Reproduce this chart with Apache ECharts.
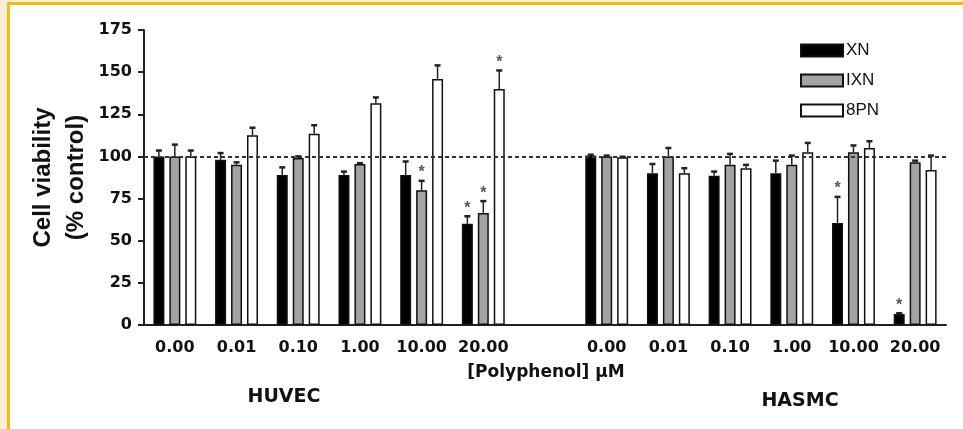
<!DOCTYPE html>
<html>
<head>
<meta charset="utf-8">
<script src="https://cdn.jsdelivr.net/npm/echarts@6/dist/echarts.min.js"></script>
<style>
  html, body { margin: 0; padding: 0; background: #fbeed4; }
  #frame { position: absolute; left: 7px; top: 2px; width: 956px; height: 427px;
    background: #fff; border-left: 3px solid #f2bb1c; border-top: 3px solid #f2bb1c; box-sizing: border-box; }
  #chart { position: absolute; left: 0; top: 0; width: 963px; height: 429px; }
</style>
</head>
<body>
<div id="frame"></div>
<div id="chart"></div>
<script>
// concentrations, per cell line
const doses = ['0.00', '0.01', '0.10', '1.00', '10.00', '20.00']

// cell viability (% control), mean and SEM
const xnHuvec = [100, 98, 89, 89, 89, 60]
const xnHuvecErr = [3.5, 4, 4.5, 2, 8, 4.5]
const ixnHuvec = [100, 95, 99, 95.5, 80, 66.5]
const ixnHuvecErr = [7, 1.5, 1, 0.5, 5.5, 7]
const pnHuvec = [100, 112.5, 113.5, 131.5, 146, 140]
const pnHuvecErr = [3.5, 4.5, 5, 3.5, 8, 11]

const xnHasmc = [100.5, 90, 88.5, 90, 60.5, 6.5]
const xnHasmcErr = [0.5, 5.5, 2.5, 7.5, 15.5, 0.5]
const ixnHasmc = [100, 100, 95, 95, 102.5, 96.5]
const ixnHasmcErr = [0.5, 5, 6.5, 5.5, 4, 1]
const pnHasmc = [99.5, 90, 93, 102.5, 105, 92]
const pnHasmcErr = [0.3, 3, 2, 5.5, 4, 8.5]

// significance marks (*)
const xnHuvecStar = [0, 0, 0, 0, 0, 1]
const xnHasmcStar = [0, 0, 0, 0, 1, 1]
const ixnHuvecStar = [0, 0, 0, 0, 1, 1]
const ixnHasmcStar = [0, 0, 0, 0, 0, 0]
const pnHuvecStar = [0, 0, 0, 0, 0, 1]
const pnHasmcStar = [0, 0, 0, 0, 0, 0]

const yTicks = [0, 25, 50, 75, 100, 125, 150, 175]

// HUVEC, empty slot, HASMC
const categories = doses.concat([''], doses)
const join = (a, b) => a.concat(['-'], b)

const barW = 11
const barGap = 0.45
const step = barW * (1 + barGap)

const errData = (vals, errs, stars) => {
  let out = []
  for (let i = 0; i < vals.length; i++) {
    if (vals[i] === '-') continue
    out.push([i, vals[i], errs[i], stars[i]])
  }
  return out
}

const renderErr = (k) => (params, api) => {
  let x = api.value(0)
  let v = api.value(1)
  let e = api.value(2)
  let base = api.coord([x, v])
  let top = api.coord([x, v + e])
  let cx = base[0] + k * step
  let kids = [
    {type: 'line', shape: {x1: cx, y1: base[1], x2: cx, y2: top[1]}, style: {stroke: '#222', lineWidth: 1.5}},
    {type: 'line', shape: {x1: cx - 3, y1: top[1], x2: cx + 3, y2: top[1]}, style: {stroke: '#222', lineWidth: 2.5}}
  ]
  if (api.value(3)) {
    kids.push({type: 'text', x: cx, y: top[1] - 8,
      style: {text: '*', fill: '#555', fontSize: 16, fontWeight: 'bold', fontFamily: 'Liberation Sans', align: 'center', verticalAlign: 'middle'}})
  }
  return {type: 'group', children: kids}
}

const bar = (name, data, fill) => ({
  name: name,
  type: 'bar',
  data: data,
  barWidth: barW,
  barGap: (barGap * 100) + '%',
  itemStyle: {color: fill, borderColor: '#111', borderWidth: 1.5},
  emphasis: {disabled: true}
})

const err = (name, data, k) => ({
  name: name,
  type: 'custom',
  renderItem: renderErr(k),
  data: data,
  z: 5,
  silent: true
})

const xnAll = join(xnHuvec, xnHasmc)
const ixnAll = join(ixnHuvec, ixnHasmc)
const pnAll = join(pnHuvec, pnHasmc)

let xnBar = bar('XN', xnAll, '#000')
xnBar.markLine = {
  silent: true,
  symbol: 'none',
  label: {show: false},
  lineStyle: {color: '#333', type: [4, 3], width: 2},
  data: [{yAxis: 100}]
}

const option = {
  animation: false,
  grid: {left: 144, right: 17, top: 30, bottom: 104},
  legend: {
    data: ['XN', 'IXN', '8PN'],
    orient: 'vertical',
    left: 795,
    top: 37,
    icon: 'rect',
    itemWidth: 42,
    itemHeight: 12,
    itemGap: 13,
    textStyle: {fontFamily: 'Liberation Sans', fontSize: 17, color: '#111', padding: [0, 0, 0, -2]}
  },
  xAxis: {
    type: 'category',
    data: categories,
    axisLine: {lineStyle: {color: '#222', width: 2}},
    axisTick: {show: false},
    axisLabel: {interval: 0, margin: 15, color: '#111', fontFamily: 'DejaVu Sans', fontWeight: 'bold', fontSize: 16}
  },
  yAxis: {
    type: 'value',
    min: 0,
    max: yTicks[yTicks.length - 1],
    interval: yTicks[1] - yTicks[0],
    splitLine: {show: false},
    axisLine: {show: true, lineStyle: {color: '#222', width: 2}},
    axisTick: {show: true, length: 6, lineStyle: {width: 2, color: '#222'}},
    axisLabel: {margin: 12, color: '#111', fontFamily: 'DejaVu Sans', fontWeight: 'bold', fontSize: 16},
    name: 'Cell viability\n(% control)',
    nameLocation: 'middle',
    nameGap: 51,
    nameMoveOverlap: false,
    nameTextStyle: {fontFamily: 'Liberation Sans', fontWeight: 'bold', fontSize: 24, lineHeight: 33, color: '#111'}
  },
  graphic: [
    {type: 'text', x: 546, y: 373, style: {text: '[Polyphenol] µM', fontFamily: 'DejaVu Sans', fontWeight: 'bold', fontSize: 17, fill: '#111', align: 'center', verticalAlign: 'middle'}},
    {type: 'text', x: 284, y: 397, style: {text: 'HUVEC', fontFamily: 'DejaVu Sans', fontWeight: 'bold', fontSize: 19, fill: '#111', align: 'center', verticalAlign: 'middle'}},
    {type: 'text', x: 800, y: 401, style: {text: 'HASMC', fontFamily: 'DejaVu Sans', fontWeight: 'bold', fontSize: 19, fill: '#111', align: 'center', verticalAlign: 'middle'}}
  ],
  series: [
    xnBar,
    bar('IXN', ixnAll, '#a3a3a3'),
    bar('8PN', pnAll, '#fff'),
    err('XN err', errData(xnAll, join(xnHuvecErr, xnHasmcErr), join(xnHuvecStar, xnHasmcStar)), -1),
    err('IXN err', errData(ixnAll, join(ixnHuvecErr, ixnHasmcErr), join(ixnHuvecStar, ixnHasmcStar)), 0),
    err('8PN err', errData(pnAll, join(pnHuvecErr, pnHasmcErr), join(pnHuvecStar, pnHasmcStar)), 1)
  ]
}

let chart = echarts.init(document.getElementById('chart'))
chart.setOption(option)
</script>
</body>
</html>
